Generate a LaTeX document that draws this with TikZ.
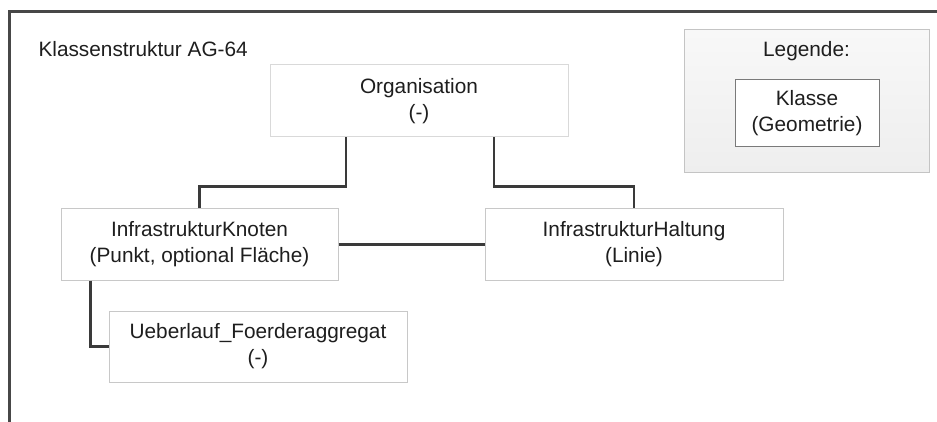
\documentclass[tikz,border=0pt]{standalone}
\usepackage{fontspec}
\setmainfont{Liberation Sans}
\definecolor{framecol}{HTML}{474747}
\definecolor{conncol}{HTML}{3A3A3A}
\definecolor{boxborder}{HTML}{C8C8C8}
\definecolor{textcol}{HTML}{1E1E1E}
\definecolor{legtop}{HTML}{F8F8F8}
\definecolor{legbottom}{HTML}{EEEEEE}
\definecolor{legborder}{HTML}{C4C4C4}
\definecolor{innerborder}{HTML}{7A7A7A}
\begin{document}
\begin{tikzpicture}[x=1pt,y=-1pt,
  every node/.style={text=textcol, font=\fontsize{20.8}{26}\selectfont},
  clsbox/.style={draw=boxborder, line width=1pt, fill=white, align=center, inner sep=0pt},
  conn/.style={draw=conncol, line width=2.2pt},
  frameline/.style={draw=framecol, line width=3pt}
]
\useasboundingbox (0,0) rectangle (937,422);
\draw[frameline] (937,12) -- (9,12) -- (9,422);
\node[anchor=base west] (title) at (35,57) {Klassenstruktur AG-64};
% legend
\node[draw=legborder, line width=1pt, top color=legtop, bottom color=legbottom, minimum width=245pt, minimum height=143pt, inner sep=0pt] (leg) at (806.5,101.5) {};
\node (legtitle) at (806.5,51) {Legende:};
\node[clsbox, draw=innerborder, minimum width=144pt, minimum height=67pt] (legcls) at (807,113.5) {Klasse\\(Geometrie)};
% classes
\node[clsbox, draw=boxborder!70!white, minimum width=298pt, minimum height=72pt] (org) at (419,101) {Organisation\\(-)};
\node[clsbox, minimum width=277pt, minimum height=71pt] (kn) at (199.5,244.5) {InfrastrukturKnoten\\(Punkt, optional Fläche)};
\node[clsbox, minimum width=298pt, minimum height=71pt] (ha) at (634,244.5) {InfrastrukturHaltung\\(Linie)};
\node[clsbox, minimum width=298pt, minimum height=71pt] (ue) at (258,346.5) {Ueberlauf\_Foerderaggregat\\(-)};
% connectors
\draw[conn] ([xshift=-73pt]org.south) -- ++(0,49) -| (kn.north);
\draw[conn] ([xshift=75pt]org.south) -- ++(0,49) -| (ha.north);
\draw[conn] (kn.east) -- (ha.west);
\draw[conn] ([xshift=-109pt]kn.south) |- (ue.west);
\end{tikzpicture}
\end{document}
